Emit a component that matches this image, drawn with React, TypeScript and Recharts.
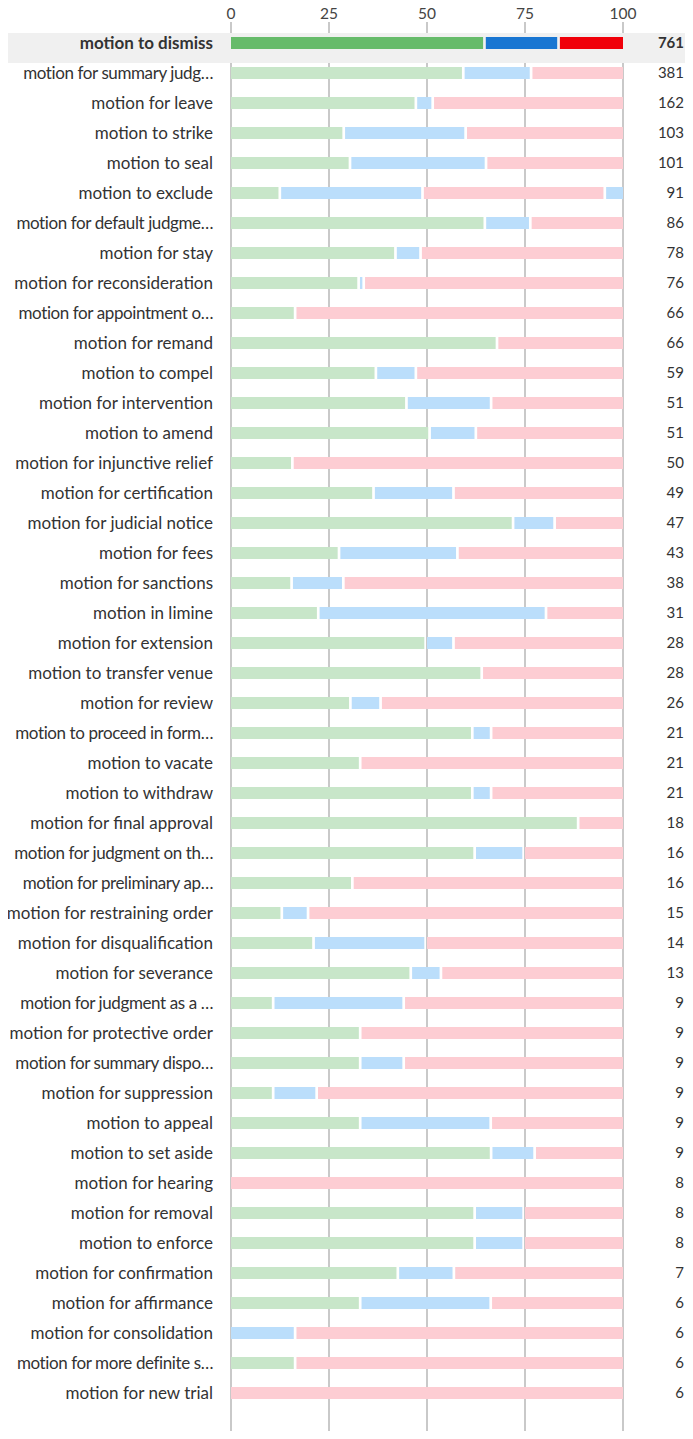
import { Bar, BarChart, CartesianGrid, ReferenceArea, XAxis, YAxis } from 'recharts';

const motions = [
  'motion to dismiss',
  'motion for summary judg…',
  'motion for leave',
  'motion to strike',
  'motion to seal',
  'motion to exclude',
  'motion for default judgme…',
  'motion for stay',
  'motion for reconsideration',
  'motion for appointment o…',
  'motion for remand',
  'motion to compel',
  'motion for intervention',
  'motion to amend',
  'motion for injunctive relief',
  'motion for certification',
  'motion for judicial notice',
  'motion for fees',
  'motion for sanctions',
  'motion in limine',
  'motion for extension',
  'motion to transfer venue',
  'motion for review',
  'motion to proceed in form…',
  'motion to vacate',
  'motion to withdraw',
  'motion for final approval',
  'motion for judgment on th…',
  'motion for preliminary ap…',
  'motion for restraining order',
  'motion for disqualification',
  'motion for severance',
  'motion for judgment as a …',
  'motion for protective order',
  'motion for summary dispo…',
  'motion for suppression',
  'motion to appeal',
  'motion to set aside',
  'motion for hearing',
  'motion for removal',
  'motion to enforce',
  'motion for confirmation',
  'motion for affirmance',
  'motion for consolidation',
  'motion for more definite s…',
  'motion for new trial',
];

const counts = [
  761, 381, 162, 103, 101, 91, 86, 78, 76, 66, 66, 59, 51, 51, 50, 49, 47, 43, 38, 31, 28, 28, 26,
  21, 21, 21, 18, 16, 16, 15, 14, 13, 9, 9, 9, 9, 9, 9, 8, 8, 8, 7, 6, 6, 6, 6,
];

// percentages per outcome
const granted = [
  65.0, 59.6, 47.5, 29.1, 30.7, 12.8, 65.1, 42.3, 32.9, 16.7, 68.2, 37.3, 45.1, 51.0, 16.0, 36.7,
  72.3, 27.9, 15.8, 22.6, 50.0, 64.3, 30.8, 61.9, 33.3, 61.9, 88.9, 62.5, 31.3, 13.3, 21.4, 46.2,
  11.1, 33.3, 33.3, 11.1, 33.3, 66.7, 0, 62.5, 62.5, 42.9, 33.3, 0, 16.7, 0,
];
const partial = [
  18.9, 17.3, 4.3, 31.1, 34.7, 36.4, 11.6, 6.4, 1.3, 0, 0, 10.2, 21.6, 11.8, 0, 20.4, 10.6, 30.2,
  13.2, 58.1, 7.1, 0, 7.7, 4.8, 0, 4.8, 0, 12.5, 0, 6.7, 28.6, 7.7, 33.3, 0, 11.1, 11.1, 33.3, 11.1,
  0, 12.5, 12.5, 14.3, 33.3, 16.7, 0, 0,
];
const denied = [
  16.1, 23.1, 48.2, 39.8, 34.6, 46.5, 23.3, 51.3, 65.8, 83.3, 31.8, 52.5, 33.3, 37.2, 84.0, 42.9,
  17.1, 41.9, 71.0, 19.3, 42.9, 35.7, 61.5, 33.3, 66.7, 33.3, 11.1, 25.0, 68.7, 80.0, 50.0, 46.1,
  55.6, 66.7, 55.6, 77.8, 33.4, 22.2, 100, 25.0, 25.0, 42.8, 33.4, 83.3, 83.3, 100,
];
const other = [
  0, 0, 0, 0, 0, 4.3, 0, 0, 0, 0, 0, 0, 0, 0, 0, 0, 0, 0, 0, 0, 0, 0, 0, 0, 0, 0, 0, 0, 0, 0, 0, 0,
  0, 0, 0, 0, 0, 0, 0, 0, 0, 0, 0, 0, 0, 0,
];

const xTicks = [0, 25, 50, 75, 100];

const series = [
  { key: 'granted', light: '#c8e6c9', strong: '#66bb6a' },
  { key: 'partial', light: '#bbdefb', strong: '#1976d2' },
  { key: 'denied', light: '#fdcdd3', strong: '#f0000a' },
  { key: 'other', light: '#bbdefb', strong: '#1976d2' },
];

const data = motions.map((name, i) => ({
  name,
  count: counts[i],
  granted: granted[i],
  partial: partial[i],
  denied: denied[i],
  other: other[i],
}));

const FONT = 'Lato, "Open Sans", sans-serif';
const W = 677;
const H = 1439;

function segmentShape(order: number) {
  return (props: any) => {
    const { x, y, width, height, payload, index } = props;
    if (!width || width <= 0) return <g />;
    const s = series[order];
    const hasNext = series.slice(order + 1).some((n) => payload[n.key] > 0);
    const w = hasNext ? Math.max(width - 2.7, 0) : width;
    return <rect x={x} y={y} width={w} height={height} fill={index === 0 ? s.strong : s.light} />;
  };
}

function MotionTick({ x, y, payload }: any) {
  const top = payload.value === motions[0];
  const cut = String(payload.value).endsWith('…');
  return (
    <text
      x={x}
      y={y}
      dy={6}
      textAnchor="end"
      fontFamily={FONT}
      fontSize={17}
      letterSpacing={cut ? -0.4 : 0}
      fontWeight={top ? 700 : 400}
      fill="#333"
    >
      {payload.value}
    </text>
  );
}

function CountTick({ x, y, payload }: any) {
  const i = motions.indexOf(payload.value);
  return (
    <text x={x} y={y} dy={5} textAnchor="end" fontFamily={FONT} fontSize={15} fontWeight={i === 0 ? 700 : 400} fill="#333">
      {counts[i]}
    </text>
  );
}

function Highlight(props: any) {
  const top = props.height > 1 ? props.y + 5 : props.y - 10;
  return <rect x={0} y={top} width={W} height={30} fill="#f0f0f0" />;
}

export default function App() {
  return (
    <div style={{ width: W, height: H, marginTop: -8, marginBottom: -8 }}>
      <BarChart
        width={W}
        height={H}
        data={data}
        layout="vertical"
        margin={{ top: 8, right: 0, bottom: 0, left: 0 }}
        barSize={12}
      >
        <ReferenceArea y1={motions[0]} y2={motions[0]} shape={Highlight} />
        <CartesianGrid horizontal={false} stroke="#c9c9c9" strokeWidth={2} />
        <XAxis
          type="number"
          orientation="top"
          domain={[0, 100]}
          ticks={xTicks}
          height={14}
          axisLine={false}
          tickLine={false}
          tickSize={0}
          tickMargin={3}
          tick={{ fontSize: 15.5, fill: '#444', fontFamily: FONT }}
        />
        <YAxis
          type="category"
          dataKey="name"
          width={223}
          axisLine={false}
          tickLine={false}
          tickSize={0}
          tickMargin={18}
          interval={0}
          padding={{ top: 6, bottom: 31 }}
          tick={<MotionTick />}
        />
        <YAxis
          yAxisId="count"
          type="category"
          dataKey="name"
          orientation="right"
          width={62}
          axisLine={false}
          tickLine={false}
          tickSize={0}
          tickMargin={61}
          interval={0}
          padding={{ top: 6, bottom: 31 }}
          tick={<CountTick />}
        />
        {series.map((s, i) => (
          <Bar key={s.key} dataKey={s.key} stackId="a" shape={segmentShape(i)} isAnimationActive={false} />
        ))}
      </BarChart>
    </div>
  );
}
